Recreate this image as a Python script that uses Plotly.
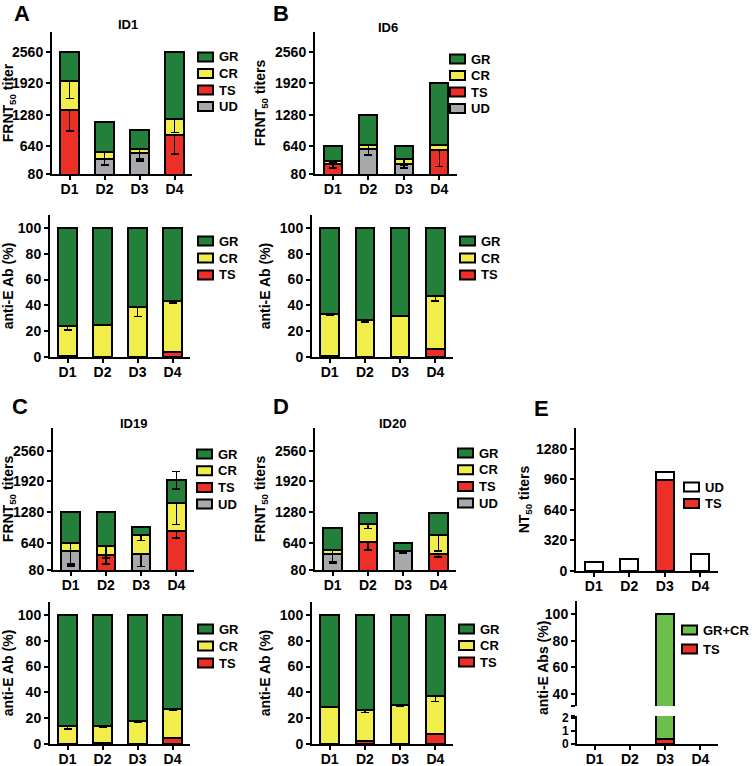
import plotly.graph_objects as go

W, H = 752, 766

days = ["D1", "D2", "D3", "D4"]

# ---- A: ID1 ----
a_ud = [0, 377, 509, 0]
a_ts = [1386, 0, 0, 877]
a_cr = [590, 148, 71, 319]
a_gr = [584, 606, 389, 1364]
a_ud_err = [None, 100, 170, None]
a_ts_err = [430, None, None, 387]
a_cr_err = [363, 277, 200, 278]

a_pct_ts = [0.5, 0, 0, 3.8]
a_pct_cr = [23.5, 25, 39, 39.2]
a_pct_gr = [76, 75, 61, 57]
a_pct_cr_err = [3, None, 7.5, 1]

# ---- B: ID6 ----
b_ud = [0, 585, 283, 0]
b_ts = [280, 0, 0, 571]
b_cr = [72, 89, 96, 103]
b_gr = [288, 597, 261, 1248]
b_ud_err = [None, 120, 80, None]
b_ts_err = [80, None, None, 343]
b_cr_err = [40, 206, 130, None]

b_pct_ts = [1, 0, 0, 6]
b_pct_cr = [32, 28.5, 32, 41]
b_pct_gr = [67, 71.5, 68, 53]
b_pct_cr_err = [0.5, 1.5, 0.5, 3.5]

# ---- C: ID19 ----
c_ud = [473, 0, 417, 0]
c_ts = [0, 383, 0, 883]
c_cr = [167, 187, 397, 592]
c_gr = [650, 720, 160, 466]
c_ud_err = [313, None, 264, None]
c_ts_err = [None, 174, None, 140]
c_cr_err = [438, 243, 118, 452]
c_gr_err = [None, None, None, 181]

c_pct_ts = [0, 1, 0, 5]
c_pct_cr = [14, 13, 17.5, 22]
c_pct_gr = [86, 86, 82.5, 73]
c_pct_cr_err = [2.5, 1, 0.3, 1]

# ---- D: ID20 ----
d_ud = [403, 0, 473, 0]
d_ts = [0, 661, 0, 403]
d_cr = [98, 382, 0, 397]
d_gr = [459, 230, 167, 473]
d_ud_err = [150, None, 40, None]
d_ts_err = [None, 170, None, 55]
d_cr_err = [278, 100, None, 320]

d_pct_ts = [0, 2.5, 0, 7.5]
d_pct_cr = [29, 23.5, 30, 29.5]
d_pct_gr = [71, 74, 70, 63]
d_pct_cr_err = [0.5, 1.5, 1, 4]

# ---- E ----
e_ts = [0, 0, 950, 0]
e_ud = [90, 130, 90, 180]
e_pct_ts = [None, None, 0.4, None]
e_pct_grcr = [None, None, 99.6, None]

frnt_ticks = [80, 640, 1280, 1920, 2560]
pct_ticks = [0, 20, 40, 60, 80, 100]
nt_ticks = [0, 320, 640, 960, 1280]

GR = "#22803a"
CR = "#f1ee4c"
TS = "#ec2f27"
UD = "#a7a9ac"
GRCR = "#6cbf4c"

fig = go.Figure()


def bar(n, name, vals, color, err=None, yn=None):
    yn = yn or n
    eb = dict(visible=False)
    if err is not None:
        eb = dict(type="data", array=err, color="black", thickness=1.5, width=4)
    fig.add_trace(go.Bar(
        x=days, y=vals, name=name, xaxis=f"x{n}", yaxis=f"y{yn}",
        marker=dict(color=color, line=dict(color="black", width=2)),
        error_y=eb,
    ))


# A
bar(1, "UD", a_ud, UD, a_ud_err)
bar(1, "TS", a_ts, TS, a_ts_err)
bar(1, "CR", a_cr, CR, a_cr_err)
bar(1, "GR", a_gr, GR)
bar(2, "TS", a_pct_ts, TS)
bar(2, "CR", a_pct_cr, CR, a_pct_cr_err)
bar(2, "GR", a_pct_gr, GR)
# B
bar(3, "UD", b_ud, UD, b_ud_err)
bar(3, "TS", b_ts, TS, b_ts_err)
bar(3, "CR", b_cr, CR, b_cr_err)
bar(3, "GR", b_gr, GR)
bar(4, "TS", b_pct_ts, TS)
bar(4, "CR", b_pct_cr, CR, b_pct_cr_err)
bar(4, "GR", b_pct_gr, GR)
# C
bar(5, "UD", c_ud, UD, c_ud_err)
bar(5, "TS", c_ts, TS, c_ts_err)
bar(5, "CR", c_cr, CR, c_cr_err)
bar(5, "GR", c_gr, GR, c_gr_err)
bar(6, "TS", c_pct_ts, TS)
bar(6, "CR", c_pct_cr, CR, c_pct_cr_err)
bar(6, "GR", c_pct_gr, GR)
# D
bar(7, "UD", d_ud, UD, d_ud_err)
bar(7, "TS", d_ts, TS, d_ts_err)
bar(7, "CR", d_cr, CR, d_cr_err)
bar(7, "GR", d_gr, GR)
bar(8, "TS", d_pct_ts, TS)
bar(8, "CR", d_pct_cr, CR, d_pct_cr_err)
bar(8, "GR", d_pct_gr, GR)
# E
bar(9, "TS", e_ts, TS)
bar(9, "UD", e_ud, "white")
bar(11, "TS", e_pct_ts, TS, yn=10)
bar(11, "GR+CR", e_pct_grcr, GRCR, yn=10)
bar(11, "TS", e_pct_ts, TS)
bar(11, "GR+CR", e_pct_grcr, GRCR)


def xdom(x0, x1):
    return [x0 / W, x1 / W]


def ydom(y0, y1):
    return [1 - y1 / H, 1 - y0 / H]


boxes = {
    1: ((52, 192), (32, 174)),
    2: ((50, 190), (215, 357)),
    3: ((315, 457), (32, 174)),
    4: ((312, 453), (215, 357)),
    5: ((53, 194), (428, 570)),
    6: ((50, 190), (602, 744)),
    7: ((315, 456), (428, 570)),
    8: ((312, 453), (602, 744)),
    9: ((576, 718), (428, 571)),
    11: ((577, 718), (716, 744)),
}

common = dict(showline=True, linecolor="black", linewidth=2, ticks="outside",
              ticklen=4, tickwidth=2, tickcolor="black", showgrid=False,
              zeroline=False, automargin=False, tickfont=dict(size=14))

layout_axes = {}
for n, (xb, yb) in boxes.items():
    layout_axes[f"xaxis{n}"] = dict(common, domain=xdom(*xb), anchor=f"y{n}",
                                    type="category", range=[-0.5, 3.5],
                                    ticklabelstandoff=-3)
    layout_axes[f"yaxis{n}"] = dict(common, domain=ydom(*yb), anchor=f"x{n}")

frnt_title = "FRNT<sub>50</sub> titers"
for n, title in [(1, "FRNT<sub>50</sub> titer"), (3, frnt_title), (5, frnt_title), (7, frnt_title)]:
    top = 2960 if n < 5 else 3030
    layout_axes[f"yaxis{n}"].update(range=[80, top], tickvals=frnt_ticks,
                                    title=dict(text=title, font=dict(size=14), standoff=6))
for n in [2, 4, 6, 8]:
    layout_axes[f"yaxis{n}"].update(range=[0, 110], tickvals=pct_ticks,
                                    title=dict(text="anti-E Ab (%)", font=dict(size=14), standoff=6))
layout_axes["yaxis9"].update(range=[0, 1500], tickvals=nt_ticks,
                             title=dict(text="NT<sub>50</sub> titers", font=dict(size=14), standoff=3))
layout_axes["yaxis11"].update(range=[0, 2.15], tickvals=[0, 1, 2, 2.13],
                              ticktext=["0", "1", "2", ""], tickfont=dict(size=12))
layout_axes["yaxis10"] = dict(common, domain=ydom(601, 706), anchor="x11",
                              range=[31, 110], tickvals=[31.3, 40, 60, 80, 100],
                              ticktext=["", "40", "60", "80", "100"])

# legend boxes: (symbol left x, first item centre y, spacing, [(label, colour), ...])
legend_specs = [
    (198, 57, 16.5, [("GR", GR), ("CR", CR), ("TS", TS), ("UD", UD)]),
    (198, 241, 17, [("GR", GR), ("CR", CR), ("TS", TS)]),
    (450, 59, 16.5, [("GR", GR), ("CR", CR), ("TS", TS), ("UD", UD)]),
    (460, 241, 17, [("GR", GR), ("CR", CR), ("TS", TS)]),
    (197, 454, 16.7, [("GR", GR), ("CR", CR), ("TS", TS), ("UD", UD)]),
    (198, 629, 17, [("GR", GR), ("CR", CR), ("TS", TS)]),
    (458, 453, 16.7, [("GR", GR), ("CR", CR), ("TS", TS), ("UD", UD)]),
    (459, 629, 16.5, [("GR", GR), ("CR", CR), ("TS", TS)]),
    (684, 487, 16.5, [("UD", "white"), ("TS", TS)]),
    (682, 630, 19, [("GR+CR", GRCR), ("TS", TS)]),
]

shapes = []
annotations = []
for lx, ly, step, items in legend_specs:
    for i, (label, col) in enumerate(items):
        cy = ly + i * step
        shapes.append(dict(type="rect", xref="paper", yref="paper",
                           x0=lx / W, x1=(lx + 15) / W,
                           y0=1 - (cy - 4.5) / H, y1=1 - (cy + 4.5) / H,
                           fillcolor=col, line=dict(color="black", width=2)))
        annotations.append(dict(text=label, x=(lx + 19) / W, y=1 - cy / H,
                                xref="paper", yref="paper", showarrow=False,
                                xanchor="left", yanchor="middle", font=dict(size=13)))

for text, ax, ay, size in [("A", 22, 14, 22), ("B", 281, 14, 22), ("C", 20, 406, 22),
                           ("D", 281, 406, 22), ("E", 541, 408, 22),
                           ("ID1", 128, 25, 13), ("ID6", 388, 27, 13),
                           ("ID19", 133, 423, 13), ("ID20", 392, 423, 13)]:
    annotations.append(dict(text=text, x=ax / W, y=1 - ay / H, xref="paper", yref="paper",
                            showarrow=False, font=dict(size=size), xanchor="center",
                            yanchor="middle"))
annotations.append(dict(text="anti-E Abs (%)", x=543 / W, y=1 - 668 / H, xref="paper",
                        yref="paper", showarrow=False, textangle=-90,
                        font=dict(size=14), xanchor="center", yanchor="middle"))

fig.update_layout(
    width=W, height=H,
    margin=dict(l=0, r=0, t=0, b=0),
    paper_bgcolor="white", plot_bgcolor="white",
    font=dict(family="Arial, Liberation Sans", color="black", weight="bold"),
    barmode="stack", bargap=0.48, showlegend=False,
    annotations=annotations, shapes=shapes,
    **layout_axes,
)

fig.write_html("out.html", config={"displayModeBar": False},
               post_script="document.body.style.margin = '0';")
